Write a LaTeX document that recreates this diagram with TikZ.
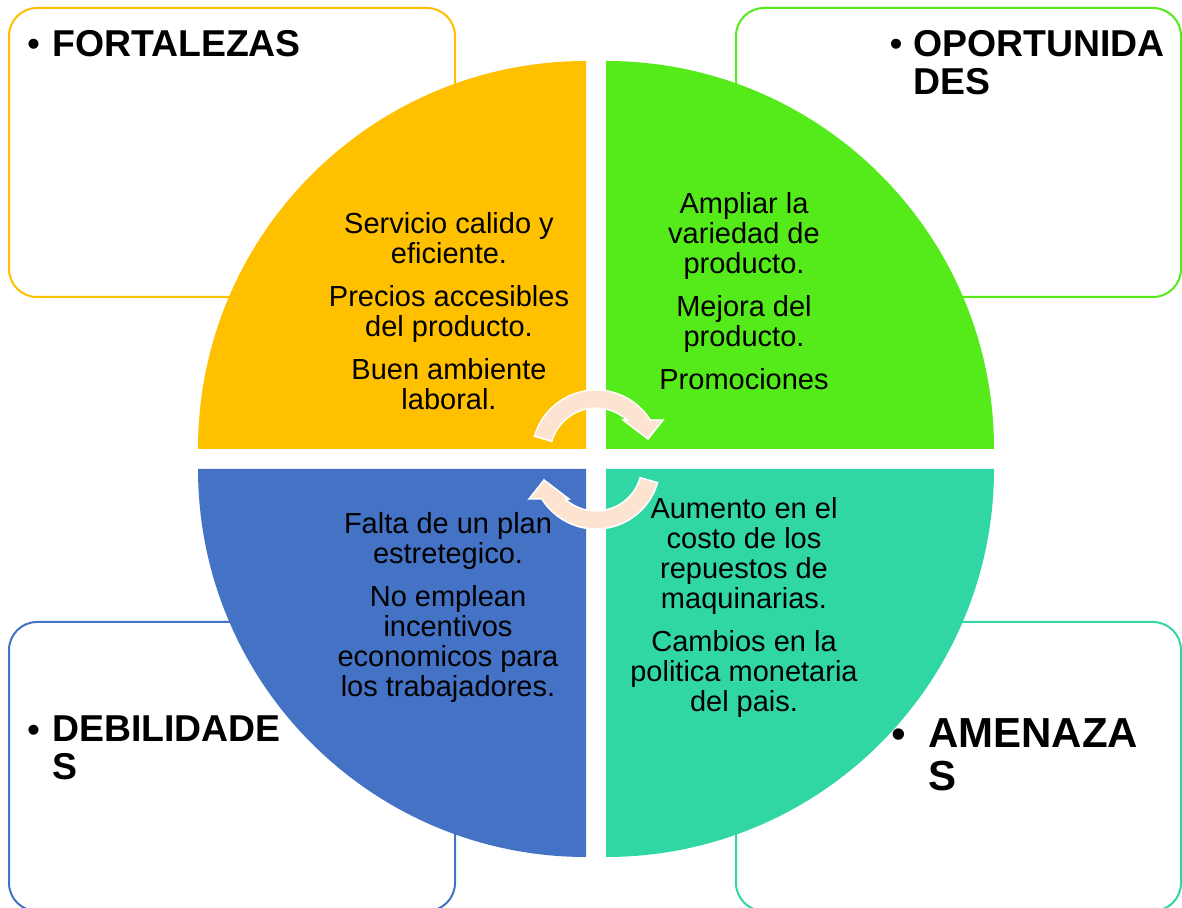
\documentclass[tikz,border=0pt]{standalone}
\usepackage{fontspec}
\setmainfont{Liberation Sans}
\definecolor{fortcol}{RGB}{255,192,0}
\definecolor{oporcol}{RGB}{85,234,26}
\definecolor{debcol}{RGB}{68,114,196}
\definecolor{amecol}{RGB}{48,214,164}
\definecolor{flechacol}{RGB}{252,228,208}
\tikzset{
  caja/.style={line width=2pt, rounded corners=28pt},
  titulo/.style={anchor=north west, inner sep=0pt, align=left, font=\fontsize{37.4}{38}\selectfont\bfseries},
  punto/.style={anchor=base west, inner sep=0pt, font=\fontsize{37}{38}\selectfont},
  texto/.style={anchor=north, inner sep=0pt, align=center, font=\fontsize{29}{30}\selectfont},
}
\begin{document}
\begin{tikzpicture}[x=1pt,y=1pt]
\useasboundingbox (0,0) rectangle (1182,907);
\fill[white] (0,0) rectangle (1182,907);
% cajas
\draw[caja, fortcol] (9,610) rectangle (455,899);
\draw[caja, oporcol] (736,610) rectangle (1181,899);
\draw[caja, debcol] (9,-4) rectangle (455,285);
\draw[caja, amecol] (736,-4) rectangle (1181,285);
% circulo
\fill[fortcol] (586,458) -- ++(0,388) arc[start angle=90,end angle=180,radius=388] -- cycle;
\fill[oporcol] (606,458) -- ++(388,0) arc[start angle=0,end angle=90,radius=388] -- cycle;
\fill[debcol] (586,438) -- ++(-388,0) arc[start angle=180,end angle=270,radius=388] -- cycle;
\fill[amecol] (606,438) -- ++(0,-388) arc[start angle=270,end angle=360,radius=388] -- cycle;
% flechas
\foreach \r in {0,180}{
\begin{scope}[rotate around={\r:(596,447.5)}, shift={(596,453)}]
\filldraw[fill=flechacol, draw=white, line width=1.5pt] (164:64) arc[start angle=164,end angle=32,radius=64] -- (67,34) -- (52,15) -- (27,34) -- (47.8:46) arc[start angle=47.8,end angle=164,radius=46] -- cycle;
\end{scope}
}
% textos
\node[texto] (fortx) at (449,695) {Servicio calido y\\eficiente.\\[13pt]Precios accesibles\\del producto.\\[13pt]Buen ambiente\\laboral.};
\node[texto] (oporx) at (744,715) {Ampliar la\\variedad de\\producto.\\[13pt]Mejora del\\producto.\\[13pt]Promociones};
\node[texto] (debx) at (448,395) {Falta de un plan\\estretegico.\\[13pt]No emplean\\incentivos\\economicos para\\los trabajadores.};
\node[texto] (amex) at (744,410) {Aumento en el\\costo de los\\repuestos de\\maquinarias.\\[13pt]Cambios en la\\politica monetaria\\del pais.};
% titulos
\node[titulo] (fort) at (52,877) {FORTALEZAS};
\node[punto] (fortp) at (27,850) {•};
\node[titulo] (opor) at (913,877) {OPORTUNIDA\\DES};
\node[punto] (oporp) at (889.5,850) {•};
\node[titulo] (deb) at (52,191) {DEBILIDADE\\S};
\node[punto] (debp) at (27,164) {•};
\node[titulo, font=\fontsize{42}{43.7}\selectfont\bfseries] (ame) at (928,189) {AMENAZA\\S};
\node[punto, font=\fontsize{42}{43.7}\selectfont] (amep) at (891,158) {•};
\end{tikzpicture}
\end{document}
